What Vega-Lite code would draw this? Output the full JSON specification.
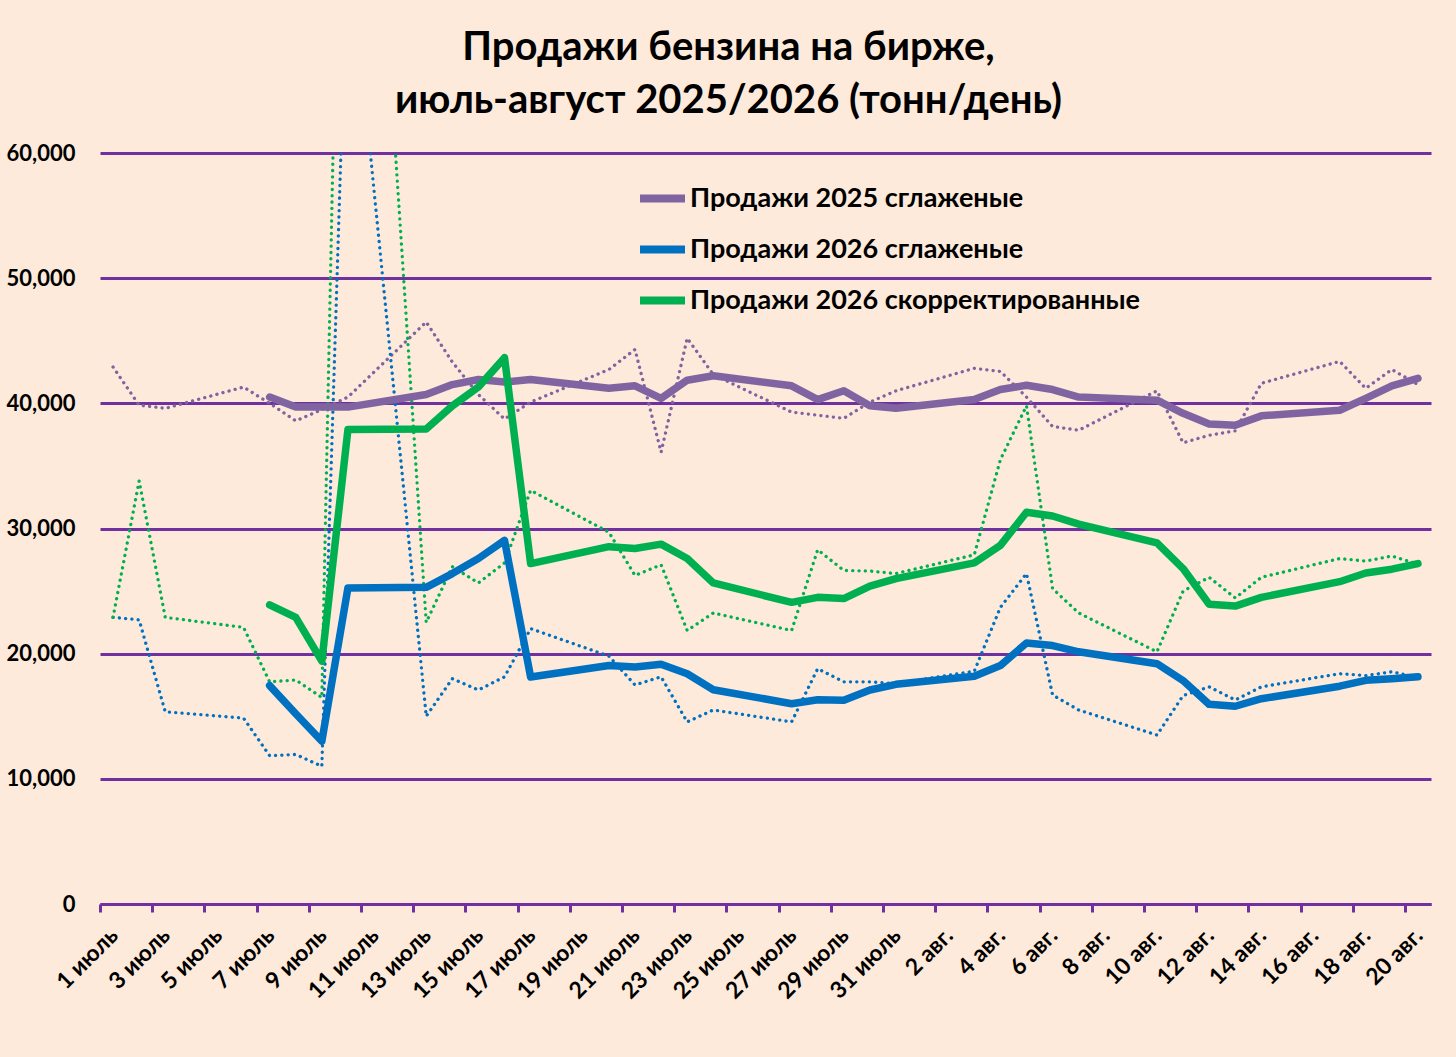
{
  "$schema": "https://vega.github.io/schema/vega-lite/v6.json",
  "width": 1331,
  "height": 751,
  "autosize": {"type": "none"},
  "padding": {"left": 100, "top": 153, "right": 25, "bottom": 153},
  "background": "#FDEADA",
  "config": {
    "view": {"stroke": null},
    "font": "Lato"
  },
  "title": {
    "text": ["Продажи бензина на бирже,", "июль-август 2025/2026 (тонн/день)"],
    "font": "Lato",
    "fontSize": 40,
    "fontWeight": "bold",
    "color": "black",
    "lineHeight": 53,
    "anchor": "middle",
    "dx": -37,
    "offset": 21
  },
  "data": {
    "values": [
      {"i": 1, "d": "1 июль", "pr": 42900, "br": 22900, "gr": 22900},
      {"i": 2, "d": "2 июль", "pr": 39850, "br": 22700, "gr": 33800},
      {"i": 3, "d": "3 июль", "pr": 39600, "br": 15350, "gr": 22900},
      {"i": 6, "d": "6 июль", "pr": 41300, "br": 14850, "gr": 22100},
      {"i": 7, "d": "7 июль", "pr": 40000, "br": 11850, "gr": 17750, "p": 40500, "b": 17450, "g": 23900},
      {"i": 8, "d": "8 июль", "pr": 38600, "br": 11950, "gr": 17900, "p": 39700, "b": 15200, "g": 22900},
      {"i": 9, "d": "9 июль", "pr": 39500, "br": 11000, "gr": 16500, "p": 39700, "b": 13000, "g": 19400},
      {"i": 10, "d": "10 июль", "pr": 40500, "br": 78000, "gr": 118000, "p": 39700, "b": 25250, "g": 37900},
      {"i": 13, "d": "13 июль", "pr": 46500, "br": 15000, "gr": 22500, "p": 40700, "b": 25300, "g": 37950},
      {"i": 14, "d": "14 июль", "pr": 43300, "br": 18000, "gr": 26950, "p": 41500, "b": 26400, "g": 39800},
      {"i": 15, "d": "15 июль", "pr": 40700, "br": 17100, "gr": 25650, "p": 41900, "b": 27600, "g": 41300},
      {"i": 16, "d": "16 июль", "pr": 38750, "br": 18150, "gr": 27250, "p": 41700, "b": 29050, "g": 43650},
      {"i": 17, "d": "17 июль", "pr": 40100, "br": 22000, "gr": 33050, "p": 41900, "b": 18130, "g": 27200},
      {"i": 20, "d": "20 июль", "pr": 42700, "br": 19800, "gr": 29700, "p": 41200, "b": 19050, "g": 28550},
      {"i": 21, "d": "21 июль", "pr": 44300, "br": 17500, "gr": 26250, "p": 41400, "b": 18930, "g": 28400},
      {"i": 22, "d": "22 июль", "pr": 36100, "br": 18150, "gr": 27100, "p": 40400, "b": 19150, "g": 28750},
      {"i": 23, "d": "23 июль", "pr": 45200, "br": 14550, "gr": 21850, "p": 41850, "b": 18400, "g": 27600},
      {"i": 24, "d": "24 июль", "pr": 42300, "br": 15500, "gr": 23250, "p": 42200, "b": 17120, "g": 25650},
      {"i": 27, "d": "27 июль", "pr": 39300, "br": 14550, "gr": 21850, "p": 41400, "b": 16000, "g": 24100},
      {"i": 28, "d": "28 июль", "pr": 39050, "br": 18800, "gr": 28300, "p": 40300, "b": 16320, "g": 24500},
      {"i": 29, "d": "29 июль", "pr": 38800, "br": 17750, "gr": 26650, "p": 41000, "b": 16270, "g": 24400},
      {"i": 30, "d": "30 июль", "pr": 40100, "br": 17750, "gr": 26600, "p": 39800, "b": 17100, "g": 25400},
      {"i": 31, "d": "31 июль", "pr": 41000, "br": 17600, "gr": 26400, "p": 39600, "b": 17550, "g": 26000},
      {"i": 34, "d": "3 авг.", "pr": 42800, "br": 18600, "gr": 27900, "p": 40300, "b": 18200, "g": 27250},
      {"i": 35, "d": "4 авг.", "pr": 42550, "br": 23700, "gr": 35500, "p": 41100, "b": 19050, "g": 28650},
      {"i": 36, "d": "5 авг.", "pr": 40500, "br": 26400, "gr": 39800, "p": 41450, "b": 20850, "g": 31300},
      {"i": 37, "d": "6 авг.", "pr": 38150, "br": 16700, "gr": 25200, "p": 41100, "b": 20650, "g": 31000},
      {"i": 38, "d": "7 авг.", "pr": 37850, "br": 15500, "gr": 23250, "p": 40500, "b": 20150, "g": 30350},
      {"i": 41, "d": "10 авг.", "pr": 41000, "br": 13500, "gr": 20150, "p": 40250, "b": 19200, "g": 28850},
      {"i": 42, "d": "11 авг.", "pr": 36850, "br": 16650, "gr": 25000, "p": 39200, "b": 17850, "g": 26800},
      {"i": 43, "d": "12 авг.", "pr": 37450, "br": 17350, "gr": 26100, "p": 38350, "b": 15950, "g": 23950},
      {"i": 44, "d": "13 авг.", "pr": 37800, "br": 16300, "gr": 24450, "p": 38250, "b": 15800, "g": 23800},
      {"i": 45, "d": "14 авг.", "pr": 41600, "br": 17350, "gr": 26100, "p": 39000, "b": 16400, "g": 24500},
      {"i": 48, "d": "17 авг.", "pr": 43350, "br": 18400, "gr": 27600, "p": 39450, "b": 17400, "g": 25750},
      {"i": 49, "d": "18 авг.", "pr": 41200, "br": 18250, "gr": 27400, "p": 40400, "b": 17870, "g": 26450},
      {"i": 50, "d": "19 авг.", "pr": 42700, "br": 18550, "gr": 27800, "p": 41400, "b": 18000, "g": 26750},
      {"i": 51, "d": "20 авг.", "pr": 41500, "br": 18100, "gr": 27150, "p": 42000, "b": 18150, "g": 27200}
    ]
  },
  "encoding": {
    "x": {
      "field": "d",
      "type": "ordinal",
      "sort": null,
      "scale": {
        "type": "point",
        "padding": 0.5,
        "domain": ["1 июль", "2 июль", "3 июль", "4 июль", "5 июль", "6 июль", "7 июль", "8 июль", "9 июль", "10 июль",
                   "11 июль", "12 июль", "13 июль", "14 июль", "15 июль", "16 июль", "17 июль", "18 июль", "19 июль", "20 июль",
                   "21 июль", "22 июль", "23 июль", "24 июль", "25 июль", "26 июль", "27 июль", "28 июль", "29 июль", "30 июль", "31 июль",
                   "1 авг.", "2 авг.", "3 авг.", "4 авг.", "5 авг.", "6 авг.", "7 авг.", "8 авг.", "9 авг.", "10 авг.",
                   "11 авг.", "12 авг.", "13 авг.", "14 авг.", "15 авг.", "16 авг.", "17 авг.", "18 авг.", "19 авг.", "20 авг."]
      },
      "axis": {
        "title": null,
        "values": ["1 июль", "3 июль", "5 июль", "7 июль", "9 июль", "11 июль", "13 июль", "15 июль", "17 июль", "19 июль",
                   "21 июль", "23 июль", "25 июль", "27 июль", "29 июль", "31 июль",
                   "2 авг.", "4 авг.", "6 авг.", "8 авг.", "10 авг.", "12 авг.", "14 авг.", "16 авг.", "18 авг.", "20 авг."],
        "domainColor": "#7030A0",
        "domainWidth": 3,
        "tickColor": "#7030A0",
        "tickWidth": 3,
        "tickSize": 8,
        "tickOffset": -13,
        "labelOffset": 6,
        "labelAngle": -45,
        "labelFont": "Lato",
        "labelFontSize": 23,
        "labelFontWeight": "bold",
        "labelColor": "black",
        "labelPadding": 12,
        "grid": false
      }
    },
    "y": {
      "type": "quantitative",
      "scale": {"domain": [0, 60000], "nice": false},
      "axis": {
        "title": null,
        "values": [0, 10000, 20000, 30000, 40000, 50000, 60000],
        "format": ",d",
        "domain": false,
        "ticks": false,
        "grid": true,
        "gridColor": "#7030A0",
        "gridWidth": 3,
        "gridOpacity": 1,
        "labelFont": "Lato",
        "labelFontSize": 22,
        "labelFontWeight": "bold",
        "labelColor": "black",
        "labelPadding": 25
      }
    },
    "order": {"field": "i", "type": "quantitative"}
  },
  "layer": [
    {
      "transform": [{"fold": ["pr", "br", "gr"], "as": ["k", "v"]}],
      "mark": {"type": "line", "strokeWidth": 3.3, "strokeDash": [0.1, 6.2], "strokeCap": "round", "clip": true},
      "encoding": {
        "y": {"field": "v", "type": "quantitative"},
        "color": {
          "field": "k",
          "type": "nominal",
          "scale": {"domain": ["pr", "br", "gr"], "range": ["#8064A2", "#0070C0", "#00B050"]},
          "legend": null
        }
      }
    },
    {
      "transform": [{"fold": ["p", "b", "g"], "as": ["k", "v"]}],
      "mark": {"type": "line", "strokeWidth": 7.5, "strokeCap": "round", "strokeJoin": "round", "clip": true},
      "encoding": {
        "y": {"field": "v", "type": "quantitative"},
        "color": {
          "field": "k",
          "type": "nominal",
          "scale": {"domain": ["p", "b", "g"], "range": ["#8064A2", "#0070C0", "#00B050"]},
          "legend": {
            "title": null,
            "orient": "none",
            "legendX": 536,
            "legendY": 19,
            "symbolType": "stroke",
            "symbolSize": 2025,
            "symbolStrokeWidth": 8,
            "rowPadding": 8,
            "labelOffset": 1,
            "labelFont": "Lato",
            "labelFontSize": 27,
            "labelFontWeight": "bold",
            "labelColor": "black",
            "labelLimit": 700,
            "labelExpr": "datum.label == 'p' ? 'Продажи 2025 сглаженые' : datum.label == 'b' ? 'Продажи 2026 сглаженые' : 'Продажи 2026 скорректированные'"
          }
        }
      }
    }
  ],
  "resolve": {"scale": {"color": "independent"}}
}
